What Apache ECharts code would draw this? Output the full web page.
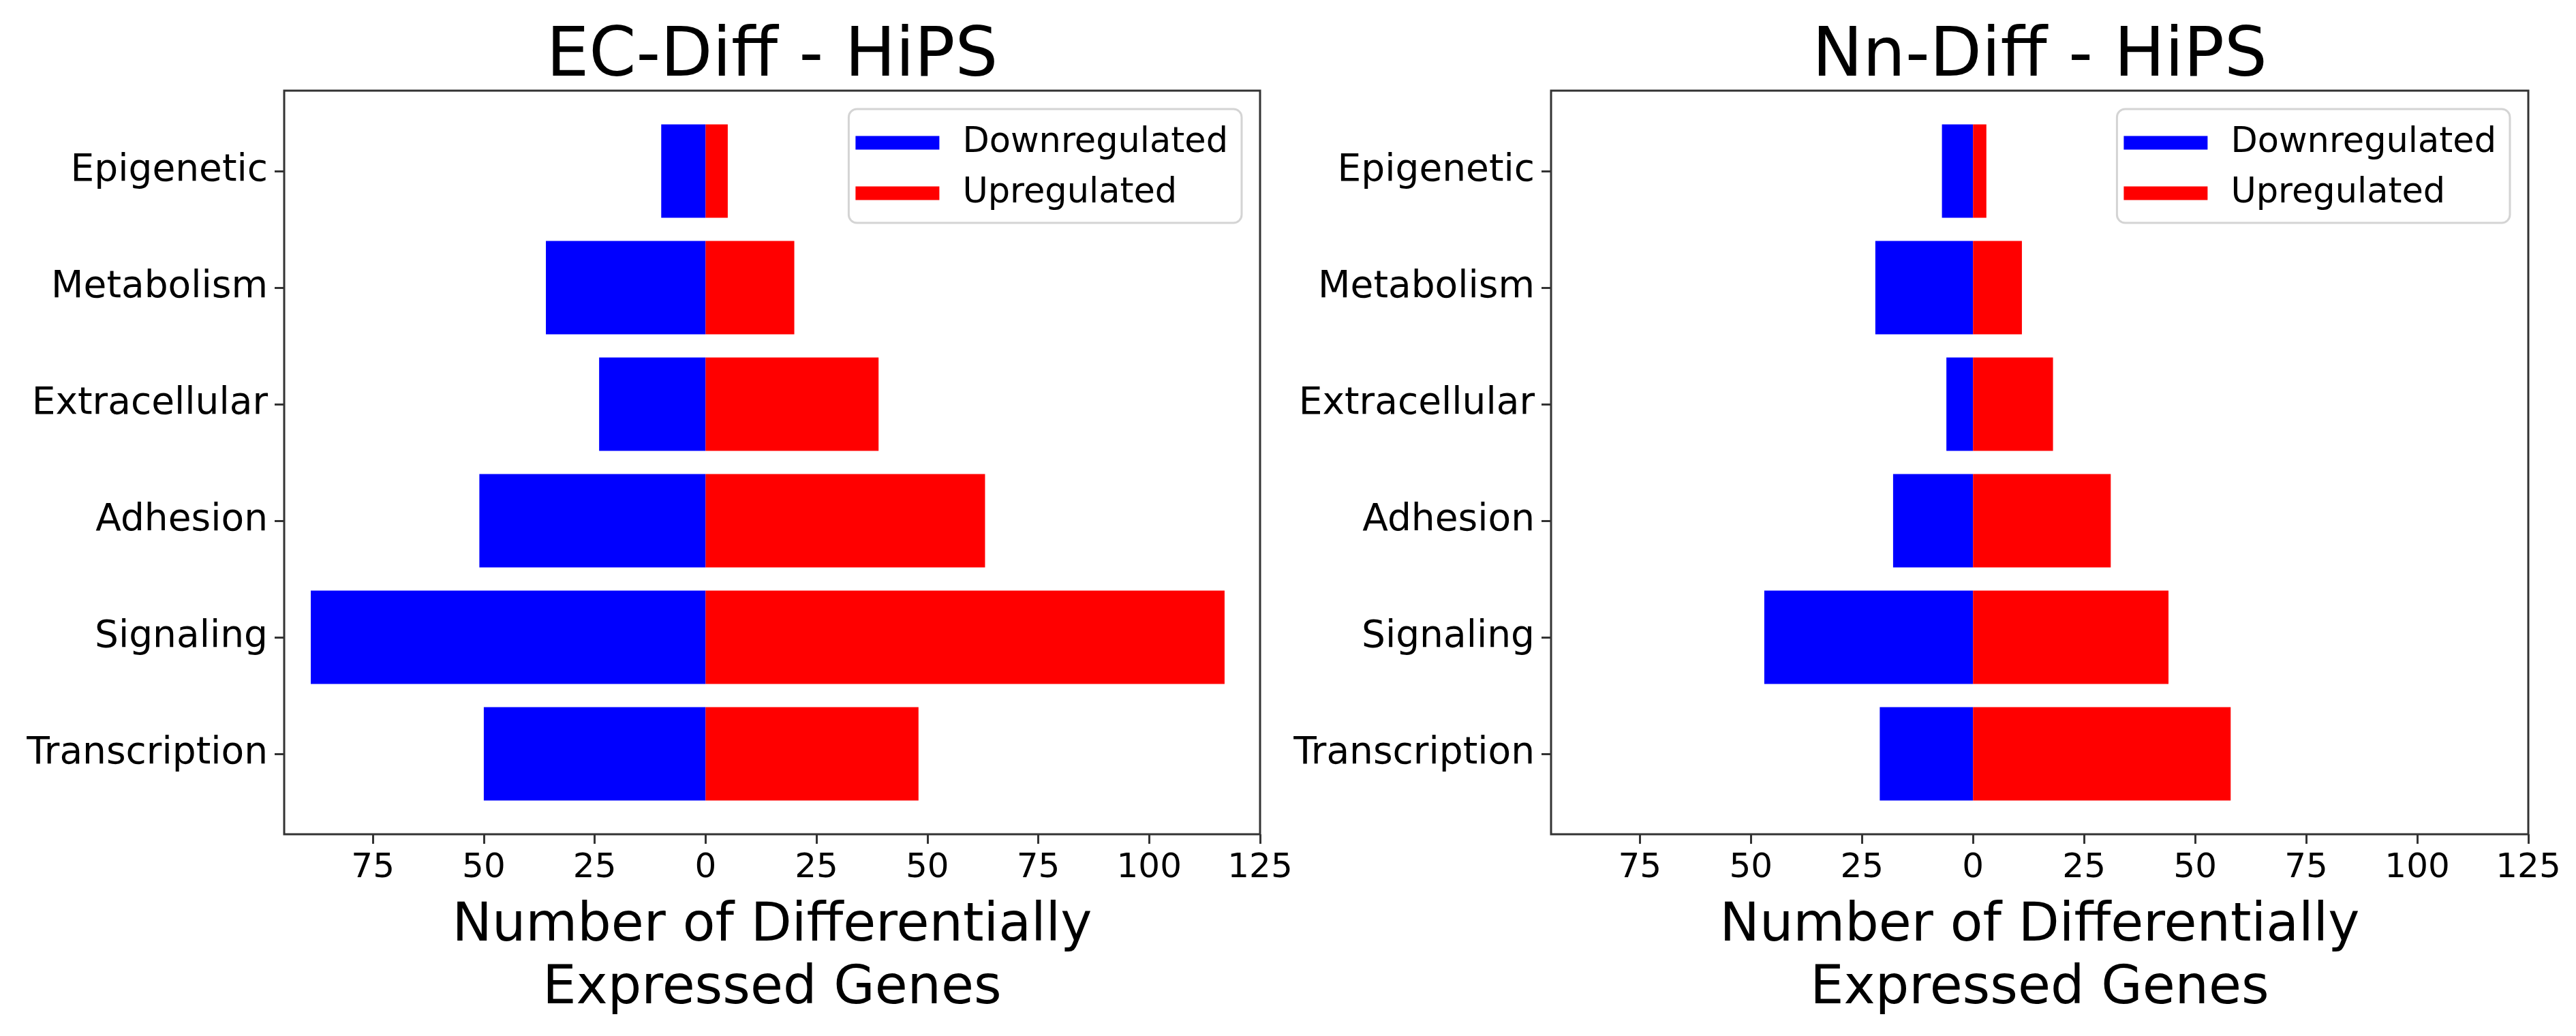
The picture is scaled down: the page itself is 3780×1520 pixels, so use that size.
<!DOCTYPE html>
<html><head><meta charset="utf-8">
<script src="https://cdn.jsdelivr.net/npm/echarts@6/dist/echarts.min.js"></script>
<style>html,body{margin:0;padding:0;background:#fff}#c{width:3780px;height:1520px}</style>
</head><body><div id="c"></div>
<script>
// ---- data ----
const categories = ['Epigenetic', 'Metabolism', 'Extracellular', 'Adhesion', 'Signaling', 'Transcription'];
const ecDown = [-10, -36, -24, -51, -89, -50];
const ecUp   = [5, 20, 39, 63, 117, 48];
const nnDown = [-7, -22, -6, -18, -47, -21];
const nnUp   = [3, 11, 18, 31, 44, 58];
const xTicks = [-75, -50, -25, 0, 25, 50, 75, 100, 125];
const titles = ['EC-Diff - HiPS', 'Nn-Diff - HiPS'];
const seriesNames = ['Downregulated', 'Upregulated'];
const xLabel = 'Number of Differentially\nExpressed Genes';

// ---- layout ----
const FONT = 'DejaVu Sans';
const W = 3780;
const frameTop = 133, frameBottom = 1224;
const panels = [
  {left: 417, right: 1849, down: ecDown, up: ecUp, title: titles[0]},
  {left: 2276, right: 3710, down: nnDown, up: nnUp, title: titles[1]}
];
const band = (frameBottom - frameTop) / (categories.length + 0.38);
const pad = 0.19 * band;
const axisColor = '#333';

const grid = [], xAxis = [], yAxis = [], series = [], legend = [], graphic = [];
panels.forEach((p, i) => {
  grid.push({left: p.left, width: p.right - p.left, top: frameTop + pad, height: band * categories.length});
  xAxis.push({
    gridIndex: i, type: 'value', min: -95, max: 125, offset: pad,
    axisLine: {show: false, onZero: false},
    axisTick: {show: true, length: 14, customValues: xTicks, lineStyle: {color: axisColor, width: 3}},
    axisLabel: {customValues: xTicks, formatter: v => String(Math.abs(v)), fontSize: 50, color: '#000', fontFamily: FONT, margin: 25},
    splitLine: {show: false},
    name: xLabel, nameLocation: 'middle', nameGap: 90,
    nameTextStyle: {fontSize: 78, lineHeight: 92, color: '#000', fontFamily: FONT}
  });
  yAxis.push({
    gridIndex: i, type: 'category', data: categories, inverse: true,
    axisLine: {show: false, onZero: false},
    axisTick: {show: true, alignWithLabel: true, length: 14, lineStyle: {color: axisColor, width: 3}},
    axisLabel: {fontSize: 55, color: '#000', fontFamily: FONT, margin: 24, padding: [18, 0, 0, 0]},
    splitLine: {show: false}
  });
  series.push({
    type: 'bar', name: seriesNames[0], xAxisIndex: i, yAxisIndex: i, data: p.down,
    barWidth: '80%', barGap: '-100%', itemStyle: {color: '#0000ff'}, silent: true
  });
  series.push({
    type: 'bar', name: seriesNames[1], xAxisIndex: i, yAxisIndex: i, data: p.up,
    barWidth: '80%', barGap: '-100%', itemStyle: {color: '#ff0000'}, silent: true
  });
  legend.push({
    data: seriesNames, orient: 'vertical', selectedMode: false,
    right: W - (p.right - 27), top: 160,
    icon: 'rect', itemWidth: 123, itemHeight: 20, itemGap: 19,
    padding: [22, 20, 16, 10],
    borderColor: '#d4d4d4', borderWidth: 3, borderRadius: 12,
    backgroundColor: 'rgba(255,255,255,0.8)',
    textStyle: {fontSize: 51, lineHeight: 55, color: '#000', fontFamily: FONT, padding: [0, 0, 0, 29]}
  });
  graphic.push({
    type: 'rect', z: 100, silent: true,
    shape: {x: p.left, y: frameTop, width: p.right - p.left, height: frameBottom - frameTop},
    style: {fill: 'none', stroke: axisColor, lineWidth: 3}
  });
  graphic.push({
    type: 'text', z: 100, silent: true,
    x: (p.left + p.right) / 2, y: 85,
    style: {text: p.title, fontSize: 99, fontFamily: FONT, fill: '#000', align: 'center', verticalAlign: 'middle'}
  });
});

const chart = echarts.init(document.getElementById('c'), null, {renderer: 'canvas'});
chart.setOption({
  animation: false,
  backgroundColor: '#fff',
  textStyle: {fontFamily: FONT},
  grid, xAxis, yAxis, series, legend, graphic
});
</script></body></html>
